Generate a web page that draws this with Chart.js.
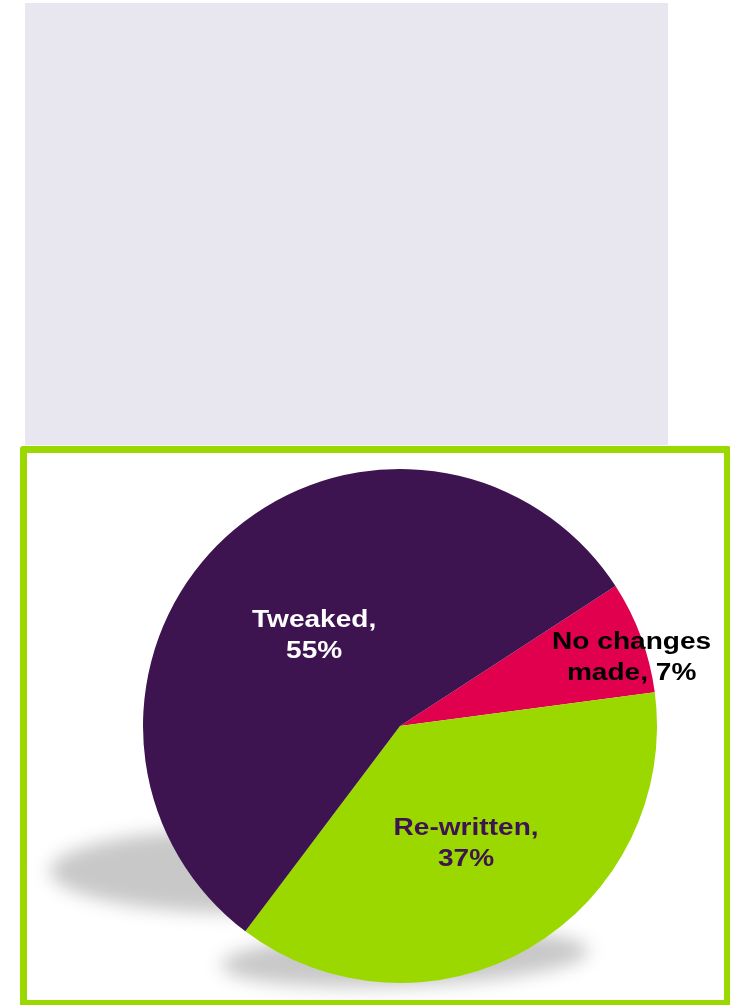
<!DOCTYPE html>
<html>
<head>
<meta charset="utf-8">
<script src="https://cdn.jsdelivr.net/npm/chart.js@4.4.1/dist/chart.umd.min.js"></script>
<style>
  html, body { margin: 0; padding: 0; background: #fff; width: 730px; height: 1005px; overflow: hidden; }
  #topPanel { position: absolute; left: 25px; top: 3px; width: 643px; height: 442px; background: #e8e6ee; }
  #frame { position: absolute; left: 20px; top: 446px; width: 697px; height: 547px; border: 7px solid #9bd800; border-radius: 3px; background: #fff; }
  #frame canvas { position: absolute; left: 0; top: 0; }
</style>
</head>
<body>
<div id="topPanel"></div>
<div id="frame"><canvas id="PieChanges" width="697" height="547"></canvas></div>
<script>
const categories = ['No changes made', 'Re-written', 'Tweaked'];
const shares = [7, 37, 55];
const sliceColors = ['#e0004d', '#9bd800', '#3d1450'];
const textColors = ['#000000', '#3d1450', '#ffffff'];
// label placement: fraction of radius along the slice middle, plus a nudge in px
const labelRadius = [0.94, 0.51, 0.49];
const labelNudge = [[5, 16], [0, 5], [0, 2]];

// soft drop shadow under the pie
const pieShadow = {
  id: 'pieShadow',
  beforeDatasetsDraw(chart) {
    const c = chart.ctx;
    c.save();
    c.filter = 'blur(9px)';
    c.fillStyle = '#c8c8c8';
    c.beginPath();
    c.ellipse(215, 418, 192, 42, 0, 0, Math.PI * 2);
    c.fill();
    c.beginPath();
    c.ellipse(378, 505, 184, 28, -0.04, 0, Math.PI * 2);
    c.fill();
    c.restore();
  }
};

// two-line "name, value%" labels, slightly widened
const sliceLabels = {
  id: 'sliceLabels',
  afterDatasetsDraw(chart) {
    const c = chart.ctx;
    const arcs = chart.getDatasetMeta(0).data;
    const sx = 1.22;
    c.save();
    c.font = 'bold 23px "Liberation Sans", Arial, sans-serif';
    c.textAlign = 'center';
    c.textBaseline = 'middle';
    arcs.forEach((arc, i) => {
      const p = arc.getProps(['x', 'y', 'startAngle', 'endAngle', 'outerRadius'], true);
      const mid = (p.startAngle + p.endAngle) / 2;
      const r = p.outerRadius * labelRadius[i];
      const cx = p.x + Math.cos(mid) * r + labelNudge[i][0];
      const cy = p.y + Math.sin(mid) * r + labelNudge[i][1];
      const words = (categories[i] + ', ' + shares[i] + '%').split(' ');
      const lines = [];
      let cur = '';
      words.forEach(w => {
        const t = cur ? cur + ' ' + w : w;
        if (cur && c.measureText(t).width * sx > 175) { lines.push(cur); cur = w; }
        else cur = t;
      });
      lines.push(cur);
      const lh = 31;
      c.fillStyle = textColors[i];
      lines.forEach((ln, k) => {
        const y = cy + (k - (lines.length - 1) / 2) * lh;
        c.save();
        c.translate(cx, y);
        c.scale(sx, 1);
        c.fillText(ln, 0, 0);
        c.restore();
      });
    });
    c.restore();
  }
};

const ctx = document.getElementById('PieChanges');
new Chart(ctx, {
  type: 'pie',
  data: {
    labels: categories,
    datasets: [{
      data: shares,
      backgroundColor: sliceColors,
      borderWidth: 0
    }]
  },
  options: {
    responsive: false,
    animation: false,
    rotation: 57,
    layout: {
      padding: { left: 116, right: 67, top: 16, bottom: 17 }
    },
    plugins: {
      legend: { display: false },
      tooltip: { enabled: false }
    }
  },
  plugins: [pieShadow, sliceLabels]
});
</script>
</body>
</html>
